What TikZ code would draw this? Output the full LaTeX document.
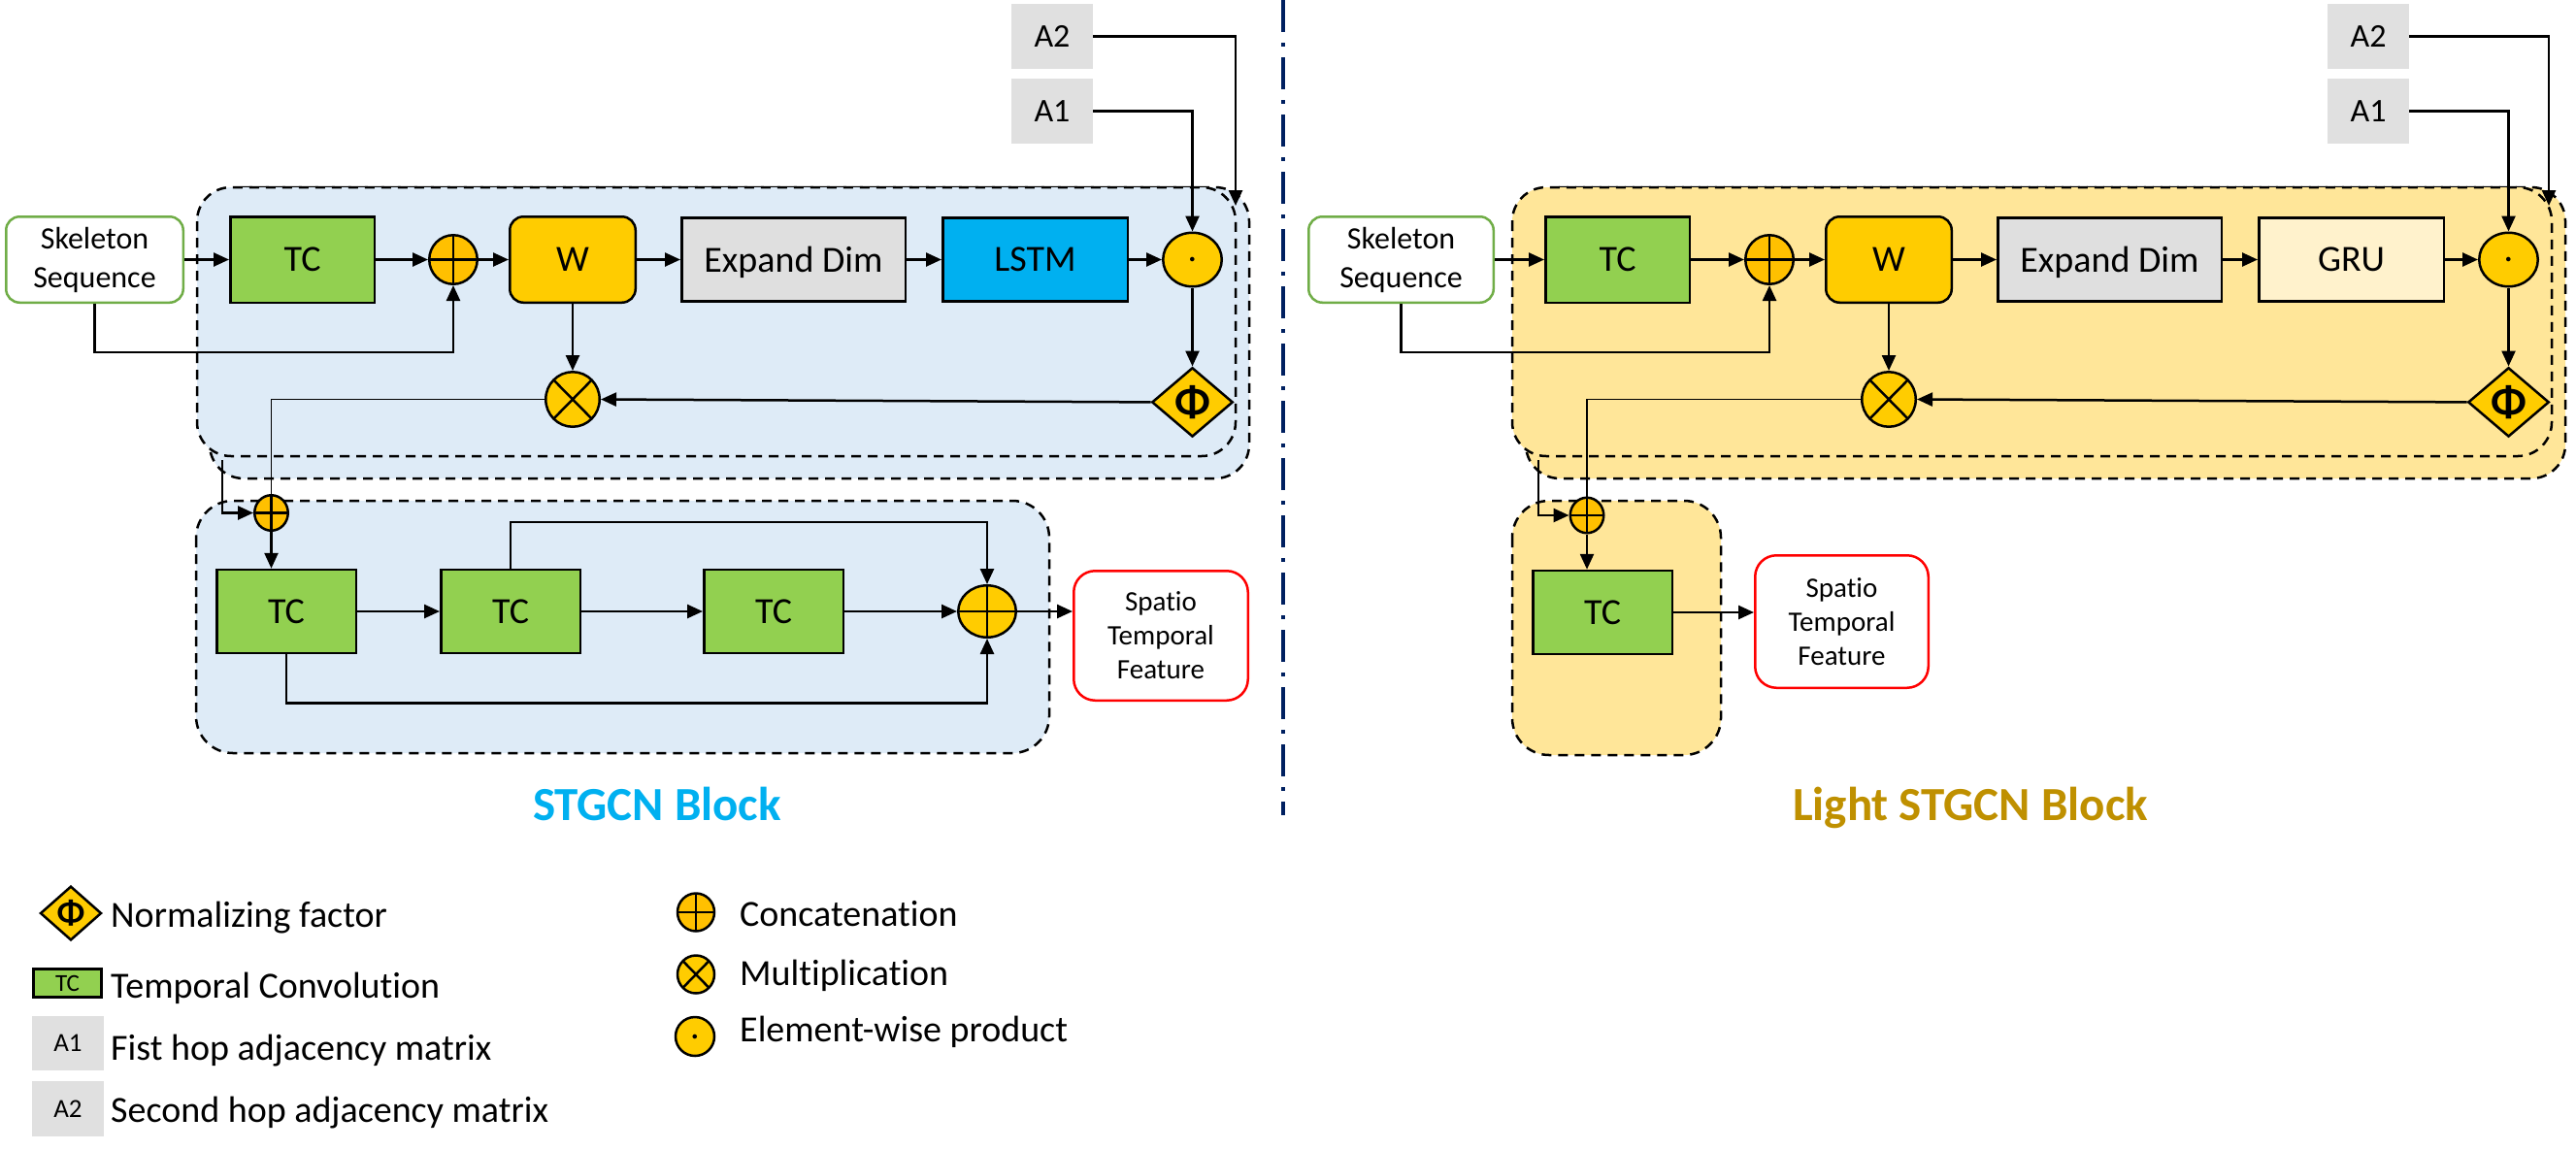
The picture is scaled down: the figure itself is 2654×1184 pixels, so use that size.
\documentclass[tikz,border=0pt]{standalone}
\usepackage{fontspec}
\setmainfont{Carlito}[Ligatures=NoCommon]
\usepackage{tikz}
\usetikzlibrary{positioning, shapes.geometric, arrows.meta}

\definecolor{tcgreen}{HTML}{92D050}
\definecolor{wgold}{HTML}{FFCC00}
\definecolor{catorange}{HTML}{FFC000}
\definecolor{dimgray}{HTML}{DFDFDF}
\definecolor{lstmblue}{HTML}{00B0F0}
\definecolor{grucream}{HTML}{FFF2CC}
\definecolor{adjgray}{HTML}{E0E0E0}
\definecolor{skelgreen}{HTML}{70AD47}
\definecolor{paneblue}{HTML}{DEEBF7}
\definecolor{paneyellow}{HTML}{FFE699}
\definecolor{titleblue}{HTML}{00B0F0}
\definecolor{titlegold}{HTML}{BF9000}
\definecolor{divnavy}{HTML}{002060}

\tikzset{
    blocknode/.style={draw, line width=2.5pt, inner sep=0pt, minimum height=86pt, text depth=0pt,
        font=\fontsize{38}{46}\selectfont},
    tcnode/.style={blocknode, fill=tcgreen, minimum width=143.5pt},
    wnode/.style={blocknode, fill=wgold, rounded corners=14pt, minimum width=129.5pt, minimum height=88.5pt},
    dimnode/.style={blocknode, fill=dimgray, minimum width=230.5pt},
    netnode/.style={blocknode, minimum width=190.5pt},
    innode/.style={draw=skelgreen, line width=2.5pt, fill=white, rounded corners=14pt, align=center,
        inner sep=0pt, minimum width=182.5pt, minimum height=88.5pt, font=\fontsize{32}{40}\selectfont},
    outnode/.style={draw=red, line width=2.5pt, fill=white, rounded corners=22pt, align=center,
        inner sep=0pt, minimum width=179.5pt, minimum height=133.5pt, font=\fontsize{29}{35}\selectfont},
    adjnode/.style={fill=adjgray, inner sep=0pt, minimum width=84pt, minimum height=67pt, text depth=0pt,
        font=\fontsize{34}{40}\selectfont},
    opnode/.style={ellipse, draw, line width=2.5pt, inner sep=0pt},
    catnode/.style={opnode, fill=catorange, minimum width=49.5pt, minimum height=50.5pt,
        path picture={\draw[line width=2.5pt] (path picture bounding box.north) -- (path picture bounding box.south)
            (path picture bounding box.west) -- (path picture bounding box.east);}},
    multnode/.style={opnode, fill=wgold, minimum width=55.5pt, minimum height=56.5pt,
        path picture={\draw[line width=2.5pt] (path picture bounding box.north west) -- (path picture bounding box.south east)
            (path picture bounding box.north east) -- (path picture bounding box.south west);}},
    dotnode/.style={opnode, fill=wgold, minimum width=60.5pt, minimum height=55.5pt,
        font=\fontsize{38}{46}\selectfont},
    phinode/.style={diamond, draw, line width=2.5pt, fill=wgold, inner sep=0pt,
        minimum width=83.5pt, minimum height=61.5pt, font=\fontsize{46}{52}\selectfont\bfseries},
    panelbox/.style={line width=2.5pt, dash pattern=on 10pt off 7pt, rounded corners=35pt},
    arr/.style={-{Triangle[length=16pt,width=14pt]}, line width=2.5pt},
    thinline/.style={line width=1.5pt},
    divline/.style={draw=divnavy, line width=4pt, dash pattern=on 33pt off 11pt on 4pt off 11pt},
    titletext/.style={anchor=base, font=\fontsize{49}{58}\selectfont\bfseries},
    legtext/.style={anchor=base west, inner sep=0pt, font=\fontsize{38}{46}\selectfont}
}

\begin{document}
\begin{tikzpicture}[x=1pt, y=-1pt]
    \useasboundingbox (0,0) rectangle (2654,1184);

    % Panels
    \draw[panelbox, fill=paneblue] (216,193) rectangle (1287,493);
    \draw[panelbox, fill=paneblue] (203,193) rectangle (1273,470);
    \draw[panelbox, fill=paneblue, rounded corners=38pt] (202,516) rectangle (1081,776);
    \draw[panelbox, fill=paneyellow] (1572,193) rectangle (2643,493);
    \draw[panelbox, fill=paneyellow] (1558,193) rectangle (2629,470);
    \draw[panelbox, fill=paneyellow, rounded corners=38pt] (1558,516) rectangle (1773,778);

    % Divider
    \coordinate (divtop) at (1322,0);
    \coordinate (divbot) at (1322,840);
    \draw[divline] (divtop) -- (divbot);

    % STGCN block: define nodes
    \node[innode] (s-skel) at (97.5,267.5) {Skeleton\\Sequence};
    \node[tcnode, minimum width=148.5pt, minimum height=88.5pt, right=46pt of s-skel] (s-tc) {TC};
    \node[catnode, right=54pt of s-tc] (s-cat) {};
    \node[wnode, right=31pt of s-cat] (s-w) {W};
    \node[dimnode, right=45pt of s-w] (s-exp) {Expand Dim};
    \node[netnode, fill=lstmblue, right=36pt of s-exp] (s-lstm) {LSTM};
    \node[dotnode, right=34pt of s-lstm] (s-dot) {.};
    \node[multnode, below=69pt of s-w] (s-mult) {};
    \node[phinode, below=81pt of s-dot] (s-phi) {Φ};
    \node[adjnode] (s-a2) at (1084,37.5) {A2};
    \node[adjnode] (s-a1) at (1084,114.5) {A1};
    \coordinate (s-a2end) at (1273,212);
    \coordinate (s-tap) at (229,474);

    \node[catnode, minimum width=34.5pt, minimum height=36.5pt] (s-cat2) at (279.5,528.5) {};
    \node[tcnode] (s-tc1) at (295,630) {TC};
    \node[tcnode, right=85pt of s-tc1] (s-tc2) {TC};
    \node[tcnode, right=125pt of s-tc2] (s-tc3) {TC};
    \node[catnode, fill=wgold, minimum width=59.5pt, minimum height=53.5pt, right=116pt of s-tc3] (s-cat3) {};
    \node[outnode] (s-out) at (1196,655) {Spatio\\Temporal\\Feature};

    % STGCN block: connect nodes
    \draw[arr] (s-skel) -- (s-tc);
    \draw[arr] (s-tc) -- (s-cat);
    \draw[arr] (s-cat) -- (s-w);
    \draw[arr] (s-w) -- (s-exp);
    \draw[arr] (s-exp) -- (s-lstm);
    \draw[arr] (s-lstm) -- (s-dot);
    \draw[arr] (s-skel.south) -- ++(0,50) -| (s-cat.south);
    \draw[arr] (s-a1.east) -| (s-dot.north);
    \draw[arr] (s-a2.east) -| (s-a2end);
    \draw[arr] (s-dot) -- (s-phi);
    \draw[arr] (s-phi.west) -- (s-mult.east);
    \draw[arr] (s-w) -- (s-mult);
    \draw[thinline] (s-mult.west) -| (s-cat2.north);
    \draw[arr] (s-tap) |- (s-cat2.west);
    \draw[arr] (s-cat2.south) -- (s-cat2.south |- s-tc1.north);
    \draw[arr] (s-tc1) -- (s-tc2);
    \draw[arr] (s-tc2) -- (s-tc3);
    \draw[arr] (s-tc3) -- (s-cat3);
    \draw[arr] (s-tc2.north) -- ++(0,-48) -| (s-cat3.north);
    \draw[arr] (s-tc1.south) -- ++(0,50) -| (s-cat3.south);
    \draw[arr] (s-cat3.east) -- (s-cat3.east -| s-out.west);

    % Light STGCN block: define nodes
    \node[innode, minimum width=190.5pt] (ls-skel) at (1443.5,267.5) {Skeleton\\Sequence};
    \node[tcnode, minimum width=148.5pt, minimum height=88.5pt, right=51pt of ls-skel] (ls-tc) {TC};
    \node[catnode, right=55pt of ls-tc] (ls-cat) {};
    \node[wnode, right=31pt of ls-cat] (ls-w) {W};
    \node[dimnode, right=45pt of ls-w] (ls-exp) {Expand Dim};
    \node[netnode, fill=grucream, right=36pt of ls-exp] (ls-gru) {GRU};
    \node[dotnode, right=34pt of ls-gru] (ls-dot) {.};
    \node[multnode, below=69pt of ls-w] (ls-mult) {};
    \node[phinode, below=81pt of ls-dot] (ls-phi) {Φ};
    \node[adjnode] (ls-a2) at (2440,37.5) {A2};
    \node[adjnode] (ls-a1) at (2440,114.5) {A1};
    \coordinate (ls-a2end) at (2626,212);
    \coordinate (ls-tap) at (1585,474);

    \node[catnode, minimum width=34.5pt, minimum height=36.5pt] (ls-cat2) at (1635,531) {};
    \node[tcnode] (ls-tc1) at (1651,631) {TC};
    \node[outnode, minimum width=178.5pt, minimum height=136.5pt] (ls-out) at (1897.5,640.5) {Spatio\\Temporal\\Feature};

    % Light STGCN block: connect nodes
    \draw[arr] (ls-skel) -- (ls-tc);
    \draw[arr] (ls-tc) -- (ls-cat);
    \draw[arr] (ls-cat) -- (ls-w);
    \draw[arr] (ls-w) -- (ls-exp);
    \draw[arr] (ls-exp) -- (ls-gru);
    \draw[arr] (ls-gru) -- (ls-dot);
    \draw[arr] (ls-skel.south) -- ++(0,50) -| (ls-cat.south);
    \draw[arr] (ls-a1.east) -| (ls-dot.north);
    \draw[arr] (ls-a2.east) -| (ls-a2end);
    \draw[arr] (ls-dot) -- (ls-phi);
    \draw[arr] (ls-phi.west) -- (ls-mult.east);
    \draw[arr] (ls-w) -- (ls-mult);
    \draw[thinline] (ls-mult.west) -| (ls-cat2.north);
    \draw[arr] (ls-tap) |- (ls-cat2.west);
    \draw[arr] (ls-cat2.south) -- (ls-cat2.south |- ls-tc1.north);
    \draw[arr] (ls-tc1.east) -- (ls-tc1.east -| ls-out.west);

    % Titles
    \node[titletext, text=titleblue] (s-title) at (677,845) {STGCN Block};
    \node[titletext, text=titlegold] (ls-title) at (2030,845) {Light STGCN Block};

    % Legend
    \node[phinode, minimum width=63pt, minimum height=50pt, font=\fontsize{36}{40}\selectfont\bfseries] (lg-phi) at (73,941) {Φ};
    \node[legtext] (lg-phi-t) at (114,955) {Normalizing factor};
    \node[tcnode, minimum width=70pt, minimum height=29pt, font=\fontsize{25}{30}\selectfont] (lg-tc) at (69.5,1013) {TC};
    \node[legtext] (lg-tc-t) at (114,1028) {Temporal Convolution};
    \node[adjnode, minimum width=74pt, minimum height=56pt, font=\fontsize{27}{32}\selectfont] (lg-a1) at (70,1075) {A1};
    \node[legtext] (lg-a1-t) at (114,1092) {Fist hop adjacency matrix};
    \node[adjnode, minimum width=74pt, minimum height=57pt, font=\fontsize{27}{32}\selectfont] (lg-a2) at (70,1142.5) {A2};
    \node[legtext] (lg-a2-t) at (114,1156) {Second hop adjacency matrix};

    \node[catnode, minimum width=38pt, minimum height=39pt] (lg-cat) at (717,940) {};
    \node[legtext] (lg-cat-t) at (762,954) {Concatenation};
    \node[multnode, minimum width=38pt, minimum height=39pt] (lg-mult) at (717,1004) {};
    \node[legtext] (lg-mult-t) at (762,1015) {Multiplication};
    \node[dotnode, minimum width=40pt, minimum height=40pt] (lg-dot) at (716,1068) {.};
    \node[legtext] (lg-dot-t) at (762,1073) {Element-wise product};
\end{tikzpicture}
\end{document}
